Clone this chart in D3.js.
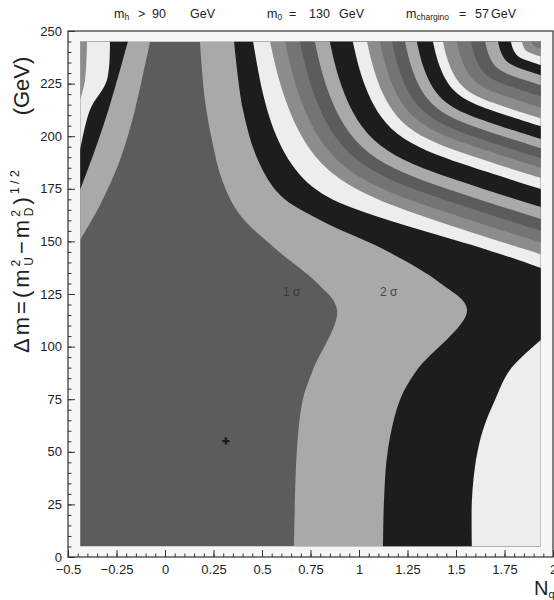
<!DOCTYPE html>
<html>
<head>
<meta charset="utf-8">
<script src="https://cdn.jsdelivr.net/npm/d3@7"></script>
<style>
body { margin: 0; background: #fff; }
text { font-family: "Liberation Sans", Arial, sans-serif; fill: #222; }
</style>
</head>
<body>
<svg id="chart" width="554" height="600"></svg>
<script>
// band colours, band k lies between the k and k+1 sigma contours (cycle of 6)
const bandColors = ["#5c5c5c", "#a9a9a9", "#1d1d1d", "#ededed", "#8c8c8c", "#747474"];

// tick labels
const xTicks = [-0.5, -0.25, 0, 0.25, 0.5, 0.75, 1, 1.25, 1.5, 1.75, 2];
const yTicks = [0, 25, 50, 75, 100, 125, 150, 175, 200, 225, 250];

// best fit point
const bestFit = [0.314, 55.1];

// contour lines [N_q, dm]
// left side, from the left edge up to the top edge
const left1 = [[-0.4375, 150.7], [-0.335, 167.3], [-0.232, 188.7], [-0.155, 212.5], [-0.077, 245]];
const left2 = [[-0.4375, 174.4], [-0.361, 193.4], [-0.284, 214.8], [-0.191, 245]];
const left3 = [[-0.4375, 193.4], [-0.387, 212.5], [-0.299, 226.7], [-0.284, 245]];
const left4 = [[-0.4375, 217.2], [-0.412, 226.7], [-0.402, 245]];

// right side, from the bottom edge up to the top edge
const right1 = [[0.665, 5], [0.680, 51], [0.711, 75], [0.763, 89], [0.887, 117.4], [0.784, 130.2],
                [0.577, 145.9], [0.387, 162.5], [0.294, 179.2], [0.242, 198.2], [0.206, 217.2], [0.180, 245]];
const right2 = [[1.124, 5], [1.129, 27.1], [1.149, 50.9], [1.211, 74.6], [1.299, 88.9], [1.557, 117.4],
                [1.418, 130.2], [1.134, 145.9], [0.799, 160.2], [0.593, 172.1], [0.479, 188.7], [0.402, 212.5], [0.356, 245]];
// lower right corner, bottom edge to right edge
const right3low = [[1.582, 5], [1.582, 27.1], [1.603, 46.1], [1.639, 60.4], [1.701, 74.6], [1.778, 88.9], [1.9375, 103.1]];

// upper right arcs, right edge to top edge, sigma = 3 ... 23
const arcs = [
  [[1.9375, 137.4], [1.675, 145.9], [1.314, 155.4], [0.979, 164.9], [0.747, 174.4], [0.593, 193.4], [0.505, 217.2], [0.454, 245]],
  [[1.9375, 143.9], [1.350, 160.9], [0.817, 178.8], [0.614, 214.6], [0.541, 245]],
  [[1.9375, 149.5], [1.383, 165.5], [0.879, 182.5], [0.687, 216.3], [0.618, 245]],
  [[1.9375, 155.1], [1.415, 170.2], [0.941, 186.2], [0.760, 218.0], [0.695, 245]],
  [[1.9375, 160.7], [1.448, 174.8], [1.003, 189.8], [0.833, 219.6], [0.772, 245]],
  [[1.9375, 166.3], [1.480, 179.5], [1.065, 193.5], [0.906, 221.3], [0.849, 245]],
  [[1.9375, 174.9], [1.530, 186.6], [1.160, 199.1], [1.019, 223.9], [0.968, 245]],
  [[1.9375, 180.1], [1.561, 191.0], [1.218, 202.5], [1.088, 225.5], [1.041, 245]],
  [[1.9375, 185.0], [1.589, 195.0], [1.272, 205.7], [1.151, 226.9], [1.108, 245]],
  [[1.9375, 189.5], [1.615, 198.8], [1.322, 208.7], [1.210, 228.3], [1.170, 245]],
  [[1.9375, 194.3], [1.643, 202.8], [1.375, 211.8], [1.273, 229.8], [1.237, 245]],
  [[1.9375, 198.7], [1.669, 206.5], [1.424, 214.7], [1.331, 231.1], [1.298, 245]],
  [[1.9375, 204.7], [1.704, 211.5], [1.491, 218.6], [1.410, 232.9], [1.381, 245]],
  [[1.9375, 208.5], [1.725, 214.6], [1.533, 221.1], [1.459, 234.0], [1.433, 245]],
  [[1.9375, 213.6], [1.755, 218.9], [1.590, 224.5], [1.527, 235.6], [1.504, 245]],
  [[1.9375, 218.9], [1.786, 223.3], [1.648, 227.9], [1.596, 237.2], [1.577, 245]],
  [[1.9375, 224.2], [1.817, 227.7], [1.707, 231.4], [1.665, 238.7], [1.650, 245]],
  [[1.9375, 229.0], [1.845, 231.7], [1.760, 234.5], [1.728, 240.2], [1.716, 245]],
  [[1.9375, 233.8], [1.873, 235.7], [1.814, 237.7], [1.791, 241.6], [1.783, 245]],
  [[1.9375, 237.9], [1.896, 239.1], [1.859, 240.4], [1.845, 242.9], [1.840, 245]],
  [[1.9375, 241.7], [1.918, 242.2], [1.900, 242.8], [1.894, 244.0], [1.891, 245]]
];

let width = 554,
    height = 600,
    frame = {left: 68, right: 553, top: 31, bottom: 557},
    grid = {x0: -0.4375, x1: 1.9375, y0: 5, y1: 245};

let x = d3.scaleLinear().domain([-0.5, 2]).range([frame.left, frame.right]),
    y = d3.scaleLinear().domain([0, 250]).range([frame.bottom, frame.top]);

// which grid corners close the region above a contour
let corners = {
  tl: [[grid.x0, grid.y1]],
  tr: [[grid.x1, grid.y1]],
  br: [[grid.x1, grid.y0]],
  r:  [[grid.x1, grid.y1], [grid.x1, grid.y0]]
};

let contours = [
  {level: 1, side: "tl", pts: left1},
  {level: 2, side: "tl", pts: left2},
  {level: 3, side: "tl", pts: left3},
  {level: 4, side: "tl", pts: left4},
  {level: 1, side: "r", pts: right1},
  {level: 2, side: "r", pts: right2},
  {level: 3, side: "br", pts: right3low}
];
arcs.forEach((a, i) => contours.push({level: i + 3, side: "tr", pts: a}));
contours.sort((a, b) => a.level - b.level);

let svg = d3.select("#chart");

svg.append("rect")
  .attr("x", frame.left).attr("y", frame.top)
  .attr("width", frame.right - frame.left).attr("height", frame.bottom - frame.top)
  .attr("fill", "#f6f6f6");

svg.append("clipPath").attr("id", "gridclip")
  .append("rect")
  .attr("x", x(grid.x0)).attr("y", y(grid.y1))
  .attr("width", x(grid.x1) - x(grid.x0)).attr("height", y(grid.y0) - y(grid.y1));

let bands = svg.append("g").attr("clip-path", "url(#gridclip)");

bands.append("rect")
  .attr("x", x(grid.x0)).attr("y", y(grid.y1))
  .attr("width", x(grid.x1) - x(grid.x0)).attr("height", y(grid.y0) - y(grid.y1))
  .attr("fill", bandColors[0]);

let line = d3.line()
  .x(d => x(d[0]))
  .y(d => y(d[1]))
  .curve(d3.curveCatmullRom.alpha(0.5));
let smooth = d3.line()
  .x(d => x(d[0]))
  .y(d => y(d[1]))
  .curve(d3.curveBasis);

bands.selectAll("path")
  .data(contours).enter()
  .append("path")
  .attr("d", c => (c.side == "tr" ? smooth : line)(c.pts)
    + corners[c.side].map(p => `L${x(p[0])},${y(p[1])}`).join("") + "Z")
  .attr("fill", c => bandColors[c.level % bandColors.length]);

// best fit marker
svg.append("path")
  .attr("transform", `translate(${x(bestFit[0])},${y(bestFit[1])})`)
  .attr("d", d3.symbol(d3.symbolCross).size(28))
  .attr("fill", "#1a1a1a");

// sigma labels
svg.append("text").attr("x", x(0.608)).attr("y", y(124))
  .attr("font-size", 12).style("fill", "#3a3a3a").text("1 σ");
svg.append("text").attr("x", x(1.108)).attr("y", y(124))
  .attr("font-size", 12).style("fill", "#444").text("2 σ");

// axes, ticks point inwards
let axes = svg.append("g");

axes.append("g")
  .attr("transform", `translate(0,${frame.bottom})`)
  .call(d3.axisBottom(x).tickValues(d3.range(-0.5, 2.001, 0.05)).tickSize(-3.5).tickFormat(""));
axes.append("g")
  .attr("transform", `translate(0,${frame.bottom})`)
  .call(d3.axisBottom(x).tickValues(xTicks).tickSize(-7).tickPadding(8).tickFormat(d3.format("")));

axes.append("g")
  .attr("transform", `translate(${frame.left},0)`)
  .call(d3.axisLeft(y).tickValues(d3.range(0, 251, 5)).tickSize(-3.5).tickFormat(""));
axes.append("g")
  .attr("transform", `translate(${frame.left},0)`)
  .call(d3.axisLeft(y).tickValues(yTicks).tickSize(-7).tickPadding(6));

axes.selectAll(".domain").remove();
axes.selectAll(".tick line").attr("stroke", "#333");
axes.selectAll(".tick text").attr("font-size", 13).attr("font-family", "Liberation Sans, Arial, sans-serif").attr("fill", "#222");

svg.append("rect")
  .attr("x", frame.left).attr("y", frame.top)
  .attr("width", frame.right - frame.left).attr("height", frame.bottom - frame.top)
  .attr("fill", "none").attr("stroke", "#333").attr("stroke-width", 1.2);

// header
let head = svg.append("g").attr("font-size", 12.5);
function mass(px, sub) {
  let t = head.append("text").attr("x", px).attr("y", 18);
  t.append("tspan").text("m");
  t.append("tspan").attr("font-size", 8.5).attr("dy", 2).text(sub);
}
mass(114, "h");
head.append("text").attr("x", 138).attr("y", 18).text(">");
head.append("text").attr("x", 152).attr("y", 18).text("90");
head.append("text").attr("x", 190).attr("y", 18).text("GeV");
mass(267, "0");
head.append("text").attr("x", 289).attr("y", 18).text("=");
head.append("text").attr("x", 309).attr("y", 18).text("130");
head.append("text").attr("x", 339).attr("y", 18).text("GeV");
mass(406, "chargino");
head.append("text").attr("x", 459).attr("y", 18).text("=");
head.append("text").attr("x", 475).attr("y", 18).text("57");
head.append("text").attr("x", 491).attr("y", 18).text("GeV");

// x title
let xt = svg.append("text").attr("x", 534).attr("y", 595).attr("font-size", 20);
xt.append("tspan").text("N");
xt.append("tspan").attr("font-size", 11).attr("dy", 3).text("q");

// y title, formula and unit
let yt = svg.append("text")
  .attr("transform", "translate(29,260) rotate(-90)")
  .attr("text-anchor", "middle")
  .attr("font-size", 22)
  .style("letter-spacing", "3px");
yt.append("tspan").text("Δm=(m");
yt.append("tspan").attr("font-size", 12).attr("dy", -9).text("2");
yt.append("tspan").attr("font-size", 12).attr("dx", -9).attr("dy", 13).text("U");
yt.append("tspan").attr("dy", -4).text("−m");
yt.append("tspan").attr("font-size", 12).attr("dy", -9).text("2");
yt.append("tspan").attr("font-size", 12).attr("dx", -9).attr("dy", 13).text("D");
yt.append("tspan").attr("dy", -4).text(")");
yt.append("tspan").attr("font-size", 13).attr("dy", -10).text("1/2");

svg.append("text")
  .attr("transform", "translate(29,86) rotate(-90)")
  .attr("text-anchor", "middle")
  .attr("font-size", 22)
  .text("(GeV)");
</script>
</body>
</html>
